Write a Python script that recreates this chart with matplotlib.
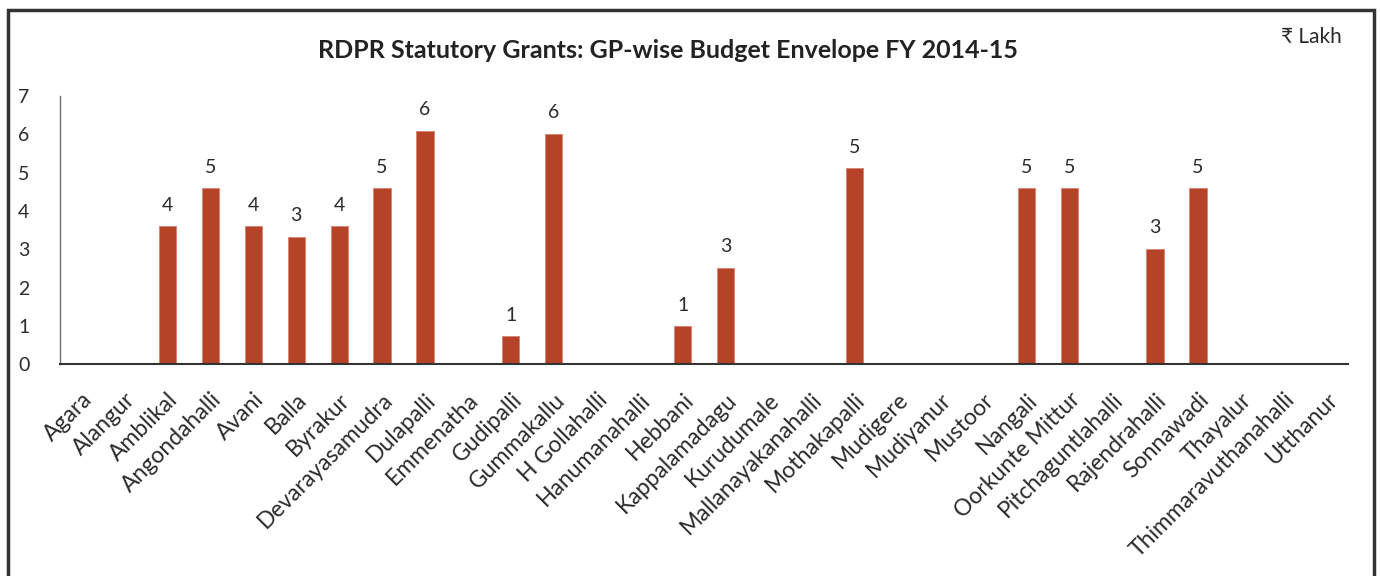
import matplotlib.pyplot as plt
from matplotlib.patches import Rectangle

# GP-wise statutory grant envelopes, FY 2014-15 (Rs lakh)
panchayats = [
    "Agara", "Alangur", "Amblikal", "Angondahalli", "Avani", "Balla",
    "Byrakur", "Devarayasamudra", "Dulapalli", "Emmenatha", "Gudipalli",
    "Gummakallu", "H Gollahalli", "Hanumanahalli", "Hebbani",
    "Kappalamadagu", "Kurudumale", "Mallanayakanahalli", "Mothakapalli",
    "Mudigere", "Mudiyanur", "Mustoor", "Nangali", "Oorkunte Mittur",
    "Pitchaguntlahalli", "Rajendrahalli", "Sonnawadi", "Thayalur",
    "Thimmaravuthanahalli", "Utthanur",
]
grants = [
    0, 0, 3.60, 4.60, 3.60, 3.32,
    3.60, 4.60, 6.10, 0, 0.72,
    6.02, 0, 0, 0.99,
    2.52, 0, 0, 5.12,
    0, 0, 0, 4.60, 4.60,
    0, 3.01, 4.60, 0,
    0, 0,
]

BAR_COLOR = "#B44327"
TEXT_COLOR = "#2b2b2b"

plt.rcParams["font.family"] = ["Lato", "DejaVu Sans"]

fig = plt.figure(figsize=(13.8, 5.76), dpi=100)
ax = fig.add_axes([0.0435, 0.368, 0.9335, 0.465])

x = range(len(panchayats))
ax.bar(x, grants, width=0.4, color=BAR_COLOR, edgecolor="#d9826f", linewidth=0.6)

for xi, v in zip(x, grants):
    if v > 0:
        ax.annotate(f"{v:.0f}", (xi, v), xytext=(0, 9), textcoords="offset points",
                    ha="center", va="bottom", fontsize=14, color=TEXT_COLOR)

ax.set_xlim(-0.5, len(panchayats) - 0.5)
ax.set_ylim(0, 7)
ax.set_yticks(range(8))
ax.set_yticklabels([str(i) for i in range(8)], fontsize=14, color=TEXT_COLOR)
ax.set_xticks(list(x))
ax.set_xticklabels(panchayats, rotation=45, ha="right", rotation_mode="anchor",
                   fontsize=16.5, color=TEXT_COLOR)
ax.tick_params(axis="y", length=0, pad=22)
ax.tick_params(axis="x", length=0, pad=18)

for side in ("top", "right"):
    ax.spines[side].set_visible(False)
ax.spines["left"].set_color("#6b6b6b")
ax.spines["left"].set_linewidth(1.0)
ax.spines["bottom"].set_color("#333333")
ax.spines["bottom"].set_linewidth(1.5)

fig.text(0.484, 0.913, "RDPR Statutory Grants: GP-wise Budget Envelope FY 2014-15",
         ha="center", va="center", fontsize=18, fontweight="bold", color="#222222")
fig.text(0.972, 0.935, "\u20b9 Lakh", ha="right", va="center", fontsize=15,
         color=TEXT_COLOR)

# outer chart border
fig.patches.append(Rectangle((8 / 1380, -0.05), 1366 / 1380, 1.05 - 10 / 576,
                             transform=fig.transFigure, fill=False,
                             edgecolor="#333333", linewidth=2.5))

fig.savefig("out.png", dpi=100)
